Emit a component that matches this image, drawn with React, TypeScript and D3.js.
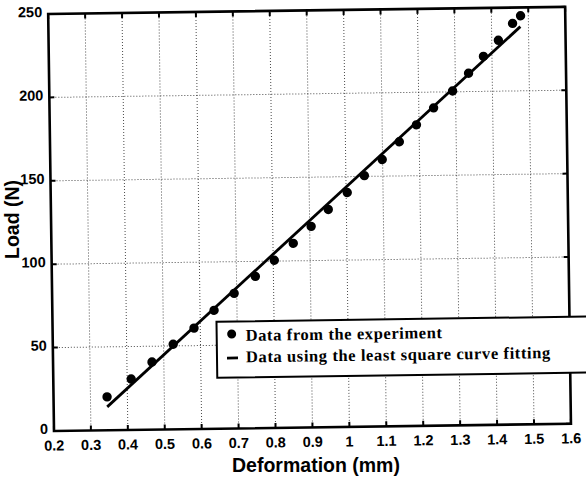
import React from 'react';
import * as d3 from 'd3';

const deformation = [0.345, 0.411, 0.468, 0.526, 0.583, 0.638, 0.693, 0.751, 0.803, 0.855, 0.904, 0.951,
    1.003, 1.05, 1.099, 1.146, 1.193, 1.24, 1.292, 1.336, 1.377, 1.418, 1.457, 1.479];
const load = [20, 30.5, 40.5, 51, 60.5, 71, 81, 91, 100.5, 110.5, 120.5, 130.5,
    140.5, 150.5, 160, 170.5, 180.5, 190.5, 200.5, 211, 221, 230.5, 240.5, 245];

// least square fit line end points
const fitDeformation = [0.345, 1.478];
const fitLoad = [14, 238.5];

const xTicks = [0.2, 0.3, 0.4, 0.5, 0.6, 0.7, 0.8, 0.9, 1.0, 1.1, 1.2, 1.3, 1.4, 1.5, 1.6];
const yTicks = [0, 50, 100, 150, 200, 250];
const legendLabels = ['Data from the experiment', 'Data using the least square curve fitting'];

const width = 586;
const height = 477;
const margin = { top: 14, right: 15, bottom: 46, left: 54 };
const sansFont = '"Liberation Sans", Arial, Helvetica, sans-serif';
const serifFont = '"Liberation Serif", "Times New Roman", serif';

const App = () => {
    const innerW = width - margin.left - margin.right;
    const innerH = height - margin.top - margin.bottom;

    const x = d3.scaleLinear().domain([0.2, 1.6]).range([margin.left, margin.left + innerW]);
    const y = d3.scaleLinear().domain([0, 250]).range([margin.top + innerH, margin.top]);

    const points = deformation.map((d, i) => ({ x: d, y: load[i] }));
    const fit = fitDeformation.map((d, i) => ({ x: d, y: fitLoad[i] }));
    const line = d3.line<{ x: number; y: number }>().x(d => x(d.x)).y(d => y(d.y));

    const x0 = x(0.2), x1 = x(1.6);
    const y0 = y(0), y1 = y(250);
    const tickLen = 5;

    // the scan is slightly tilted, so the whole plot frame is turned a little
    const tilt = `rotate(-0.8, ${x0}, ${y0})`;

    const legendX = 218;
    const legendY = 324;

    return (
        <svg width={width} height={height} style={{ position: 'absolute', left: 0, top: 0, background: '#fff' }}>
            <rect width={width} height={height} fill="#fff" />
            <g transform={tilt}>
                {/* grid */}
                {xTicks.slice(1, -1).map(t => (
                    <line key={'gx' + t} x1={x(t)} x2={x(t)} y1={y0} y2={y1}
                        stroke="#000" strokeWidth={1} strokeDasharray="1,2" opacity={0.7} />
                ))}
                {yTicks.slice(1, -1).map(t => (
                    <line key={'gy' + t} x1={x0} x2={x1} y1={y(t)} y2={y(t)}
                        stroke="#000" strokeWidth={1} strokeDasharray="1,2" opacity={0.7} />
                ))}

                {/* ticks, inward on all sides */}
                {xTicks.map(t => (
                    <g key={'tx' + t}>
                        <line x1={x(t)} x2={x(t)} y1={y0} y2={y0 - tickLen} stroke="#000" strokeWidth={2} />
                        <line x1={x(t)} x2={x(t)} y1={y1} y2={y1 + tickLen} stroke="#000" strokeWidth={2} />
                        <text x={x(t)} y={y0 + 19.5} textAnchor="middle" fontFamily={sansFont}
                            fontWeight="bold" fontSize={14.5} fill="#000">
                            {String(+t.toFixed(1))}
                        </text>
                    </g>
                ))}
                {yTicks.map(t => (
                    <g key={'ty' + t}>
                        <line x1={x0} x2={x0 + tickLen} y1={y(t)} y2={y(t)} stroke="#000" strokeWidth={2} />
                        <line x1={x1} x2={x1 - tickLen} y1={y(t)} y2={y(t)} stroke="#000" strokeWidth={2} />
                        <text x={x0 - 6} y={y(t)} dy="0.2em" textAnchor="end" fontFamily={sansFont}
                            fontWeight="bold" fontSize={14.5} fill="#000">
                            {t}
                        </text>
                    </g>
                ))}

                {/* frame */}
                <rect x={x0} y={y1} width={x1 - x0} height={y0 - y1} fill="none" stroke="#000" strokeWidth={2.6} />

                {/* fitted line */}
                <path d={line(fit) || ''} fill="none" stroke="#000" strokeWidth={2.8} />

                {/* experiment points */}
                {points.map((p, i) => (
                    <circle key={'p' + i} cx={x(p.x)} cy={y(p.y)} r={4.7} fill="#000" />
                ))}

                {/* legend */}
                <g>
                    <rect x={legendX} y={legendY} width={400} height={56} fill="#fff" stroke="#000" strokeWidth={2} />
                    <circle cx={legendX + 15} cy={legendY + 12.5} r={4.5} fill="#000" />
                    <line x1={legendX + 10} x2={legendX + 21} y1={legendY + 36.5} y2={legendY + 36.5}
                        stroke="#000" strokeWidth={2.8} />
                    {legendLabels.map((label, i) => (
                        <text key={label} x={legendX + 29} y={legendY + 19.5 + i * 21.5} fontFamily={serifFont}
                            fontWeight="bold" fontSize={16.5} letterSpacing={0.6} fill="#000">
                            {label}
                        </text>
                    ))}
                </g>
            </g>

            {/* axis titles */}
            <text x={316} y={472} textAnchor="middle" fontFamily={sansFont} fontWeight="bold"
                fontSize={19.5} fill="#000">
                Deformation (mm)
            </text>
            <text transform={`translate(19, 219.5) rotate(-90)`} textAnchor="middle" fontFamily={sansFont}
                fontWeight="bold" fontSize={19.5} fill="#000">
                Load (N)
            </text>
        </svg>
    );
};

export default App;
